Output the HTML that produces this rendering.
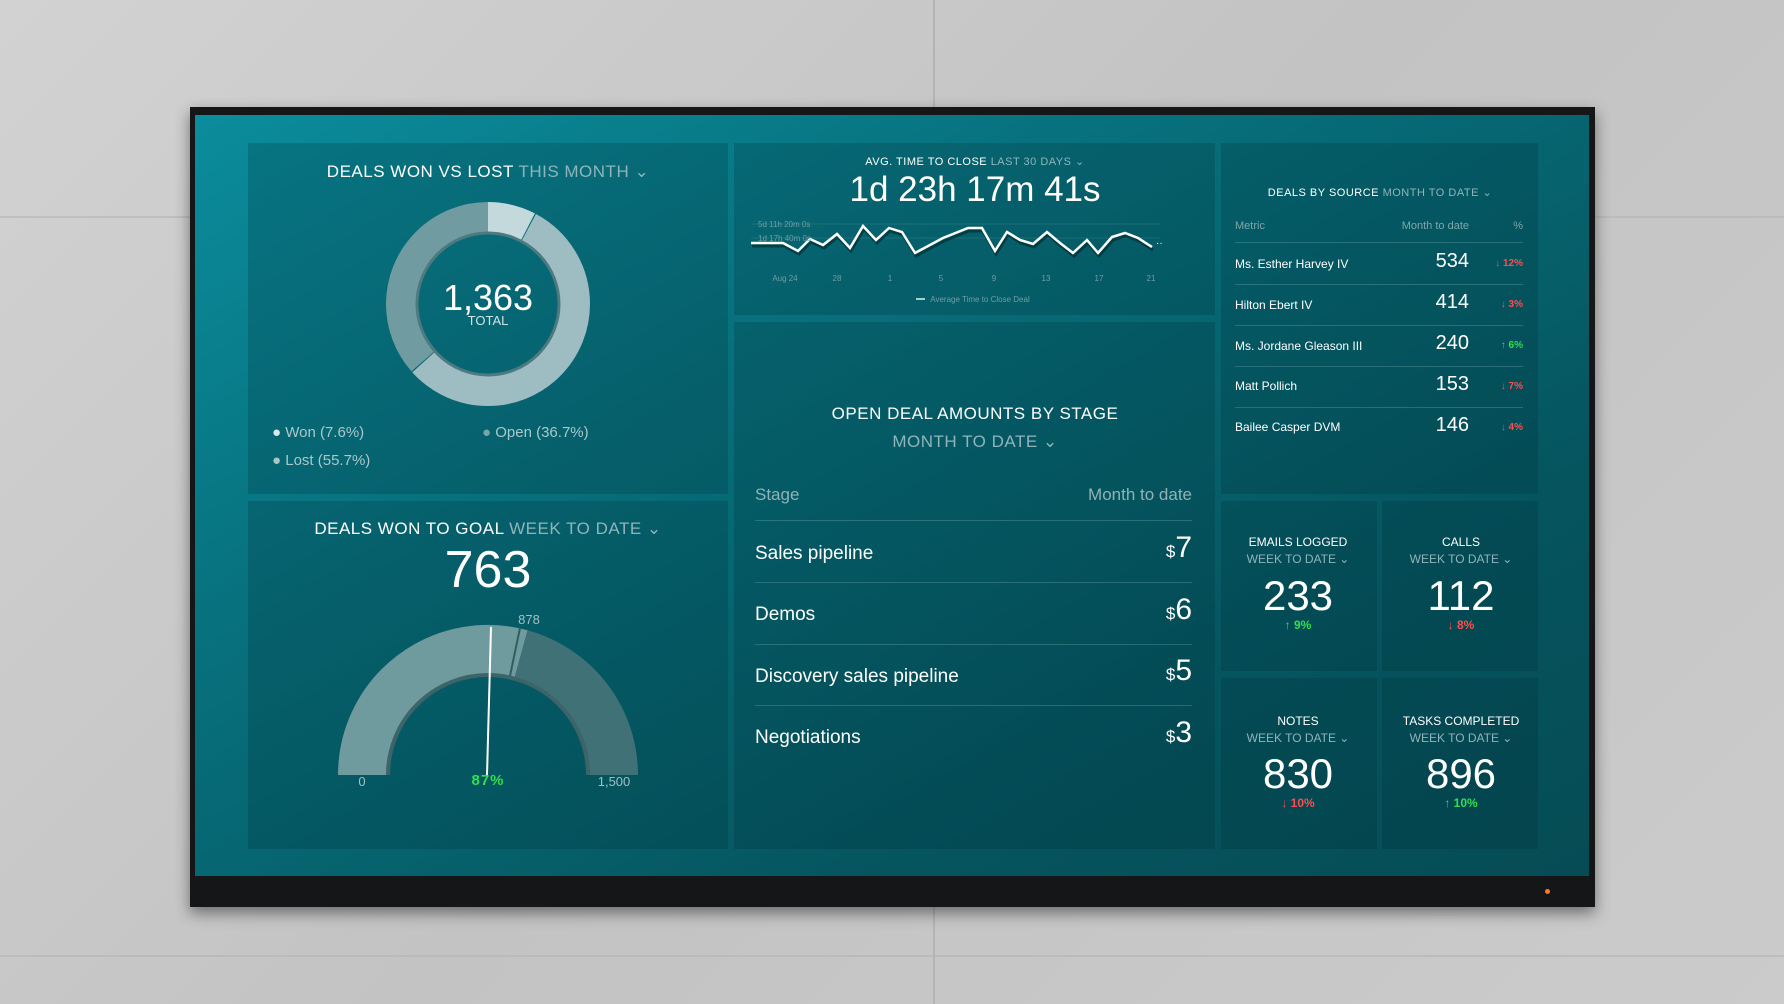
<!DOCTYPE html>
<html><head><meta charset="utf-8"><style>
*{margin:0;padding:0;box-sizing:border-box}
body{width:1784px;height:1004px;overflow:hidden;position:relative;font-family:"Liberation Sans",sans-serif;
background:linear-gradient(135deg,#d2d2d2,#c3c3c3 50%,#cbcbcb);}
.seam{position:absolute;background:#b4b4b4}
.frame{position:absolute;left:190px;top:107px;width:1405px;height:800px;background:#151617;box-shadow:0 6px 14px rgba(0,0,0,.45)}
.screen{position:absolute;left:195px;top:115px;width:1394px;height:761px;
background:linear-gradient(150deg,#0b8c9c 0%,#07707c 35%,#05545e 75%,#064c55 100%)}
.p{position:absolute;background:rgba(0,40,50,.22)}
.t{position:absolute;color:#fff;white-space:nowrap}
.c{text-align:center;transform:translateX(-50%)}
.r{text-align:right;transform:translateX(-100%)}
.dim{color:#8fb5ba}
.sep{position:absolute;height:1px;background:rgba(140,190,195,.28)}
.red{color:#ff4d4d;font-weight:bold}
.grn{color:#2fe04f;font-weight:bold}
</style></head><body>
<div class="seam" style="left:933px;top:0;width:2px;height:1004px"></div>
<div class="seam" style="left:0;top:216px;width:1784px;height:2px;opacity:.6"></div>
<div class="seam" style="left:0;top:955px;width:1784px;height:2px;opacity:.6"></div>
<div class="frame"></div>
<div class="screen"></div>
<div style="position:absolute;left:1545px;top:889px;width:5px;height:5px;border-radius:50%;background:#ff7a20"></div>

<div class="p" style="left:248px;top:143px;width:480px;height:351px"></div>
<div class="p" style="left:248px;top:501px;width:480px;height:348px"></div>
<div class="p" style="left:734px;top:143px;width:481px;height:172px"></div>
<div class="p" style="left:734px;top:322px;width:481px;height:527px"></div>
<div class="p" style="left:1221px;top:143px;width:317px;height:351px"></div>
<div class="p" style="left:1221px;top:501px;width:156px;height:170px"></div>
<div class="p" style="left:1382px;top:501px;width:156px;height:170px"></div>
<div class="p" style="left:1221px;top:678px;width:156px;height:171px"></div>
<div class="p" style="left:1382px;top:678px;width:156px;height:171px"></div>

<!-- Panel 1 -->
<div class="t c" style="left:488px;top:162px;font-size:17px;letter-spacing:.5px">DEALS WON VS LOST <span class="dim">THIS MONTH ⌄</span></div>
<svg style="position:absolute;left:0;top:0" width="1784" height="1004">
<g transform="translate(488,304) rotate(-90)">
<circle r="86.5" fill="none" stroke="#c4d9dc" stroke-width="31" stroke-dasharray="41.3 600"/>
<circle r="86.5" fill="none" stroke="#9ebdc2" stroke-width="31" stroke-dasharray="0 42.3 301.7 600"/>
<circle r="86.5" fill="none" stroke="#6f9ba1" stroke-width="31" stroke-dasharray="0 345 198.5 600"/>
<circle r="71" fill="none" stroke="#4c7a80" stroke-width="3"/>
</g>
<path d="M363 775 A125 125 0 0 1 521 654.4" fill="none" stroke="#6f9a9e" stroke-width="50"/>
<path d="M521 654.4 A125 125 0 0 1 613 775" fill="none" stroke="#3f7177" stroke-width="50"/>
<path d="M388 775 A100 100 0 0 1 588 775" fill="none" stroke="#3c6469" stroke-width="4"/>
<line x1="520" y1="628" x2="510" y2="676" stroke="#2f5f65" stroke-width="2"/>
<line x1="491" y1="627" x2="487" y2="775" stroke="#fff" stroke-width="2"/>
<!-- line chart -->
<line x1="751" y1="238" x2="1160" y2="238" stroke="rgba(150,200,205,.15)"/>
<line x1="751" y1="224" x2="1160" y2="224" stroke="rgba(150,200,205,.15)"/>
<polyline fill="none" stroke="rgba(0,0,0,.35)" stroke-width="3" transform="translate(1,3)" points="751,243 783,243 798,251 810,239 823,245 837,234 850,248 863,226 876,240 889,228 902,232 915,253 943,238 968,228 982,228 995,251 1007,232 1020,240 1033,244 1047,232 1060,243 1073,253 1087,240 1098,253 1112,237 1125,233 1138,238 1152,247"/>
<polyline fill="none" stroke="#fff" stroke-width="2.5" points="751,243 783,243 798,251 810,239 823,245 837,234 850,248 863,226 876,240 889,228 902,232 915,253 943,238 968,228 982,228 995,251 1007,232 1020,240 1033,244 1047,232 1060,243 1073,253 1087,240 1098,253 1112,237 1125,233 1138,238 1152,247"/>
<text x="1156" y="246" fill="#fff" font-size="10" font-family="Liberation Sans">··</text>
<g fill="#6f9ea4" font-size="8" font-family="Liberation Sans" text-anchor="middle">
<text x="758" y="227" text-anchor="start">5d 11h 20m 0s</text>
<text x="758" y="241" text-anchor="start">1d 17h 40m 0s</text>
<text x="785" y="281">Aug 24</text><text x="837" y="281">28</text><text x="890" y="281">1</text><text x="941" y="281">5</text><text x="994" y="281">9</text><text x="1046" y="281">13</text><text x="1099" y="281">17</text><text x="1151" y="281">21</text>
<text x="980" y="302">Average Time to Close Deal</text>
</g>
<line x1="916" y1="299" x2="925" y2="299" stroke="#cfe" stroke-width="1.5"/>
</svg>
<div class="t c" style="left:488px;top:277px;font-size:36px">1,363</div>
<div class="t c" style="left:488px;top:313px;font-size:13px;color:#cfe3e5">TOTAL</div>
<div class="t" style="left:272px;top:424px;font-size:15px;color:#aac8cc"><span style="color:#d9e8ea">●</span> Won (7.6%)</div>
<div class="t" style="left:482px;top:424px;font-size:15px;color:#aac8cc"><span style="color:#7aa3a8">●</span> Open (36.7%)</div>
<div class="t" style="left:272px;top:452px;font-size:15px;color:#aac8cc"><span style="color:#a8c6ca">●</span> Lost (55.7%)</div>

<!-- Panel 2 -->
<div class="t c" style="left:488px;top:519px;font-size:17px;letter-spacing:.5px">DEALS WON TO GOAL <span class="dim">WEEK TO DATE ⌄</span></div>
<div class="t c" style="left:488px;top:540px;font-size:52px">763</div>
<div class="t c" style="left:529px;top:612px;font-size:13px;color:#9fc0c4">878</div>
<div class="t c" style="left:362px;top:774px;font-size:13px;color:#9fc0c4">0</div>
<div class="t c grn" style="left:488px;top:772px;font-size:15px;letter-spacing:1px">87%</div>
<div class="t c" style="left:614px;top:774px;font-size:13px;color:#9fc0c4">1,500</div>

<!-- Panel 3 -->
<div class="t c" style="left:975px;top:155px;font-size:11px;letter-spacing:.5px">AVG. TIME TO CLOSE <span class="dim">LAST 30 DAYS ⌄</span></div>
<div class="t c" style="left:975px;top:170px;font-size:35px">1d 23h 17m 41s</div>

<!-- Panel 4 -->
<div class="t c" style="left:975px;top:404px;font-size:17px;letter-spacing:.5px">OPEN DEAL AMOUNTS BY STAGE</div>
<div class="t c dim" style="left:975px;top:432px;font-size:17px;letter-spacing:.5px">MONTH TO DATE ⌄</div>
<div class="t" style="left:755px;top:485px;font-size:17px;color:#8fb3b7">Stage</div>
<div class="t r" style="left:1192px;top:485px;font-size:17px;color:#8fb3b7">Month to date</div>
<div class="sep" style="left:755px;top:520px;width:437px"></div>
<div class="sep" style="left:755px;top:582px;width:437px"></div>
<div class="sep" style="left:755px;top:644px;width:437px"></div>
<div class="sep" style="left:755px;top:705px;width:437px"></div>
<div class="t" style="left:755px;top:543px;font-size:19px">Sales pipeline</div>
<div class="t" style="left:755px;top:604px;font-size:19px">Demos</div>
<div class="t" style="left:755px;top:666px;font-size:19px">Discovery sales pipeline</div>
<div class="t" style="left:755px;top:727px;font-size:19px">Negotiations</div>
<div class="t r" style="left:1192px;top:531px;font-size:30px"><span style="font-size:17px">$</span>7</div>
<div class="t r" style="left:1192px;top:593px;font-size:30px"><span style="font-size:17px">$</span>6</div>
<div class="t r" style="left:1192px;top:654px;font-size:30px"><span style="font-size:17px">$</span>5</div>
<div class="t r" style="left:1192px;top:716px;font-size:30px"><span style="font-size:17px">$</span>3</div>

<!-- Panel 5 -->
<div class="t c" style="left:1380px;top:186px;font-size:11px;letter-spacing:.5px">DEALS BY SOURCE <span class="dim">MONTH TO DATE ⌄</span></div>
<div class="t" style="left:1235px;top:220px;font-size:11px;color:#7fa6ab">Metric</div>
<div class="t r" style="left:1469px;top:220px;font-size:11px;color:#7fa6ab">Month to date</div>
<div class="t r" style="left:1523px;top:220px;font-size:11px;color:#7fa6ab">%</div>
<div class="sep" style="left:1235px;top:242px;width:288px"></div>
<div class="sep" style="left:1235px;top:284px;width:288px"></div>
<div class="sep" style="left:1235px;top:325px;width:288px"></div>
<div class="sep" style="left:1235px;top:366px;width:288px"></div>
<div class="sep" style="left:1235px;top:407px;width:288px"></div>
<div class="t" style="left:1235px;top:257px;font-size:12px">Ms. Esther Harvey IV</div>
<div class="t" style="left:1235px;top:298px;font-size:12px">Hilton Ebert IV</div>
<div class="t" style="left:1235px;top:339px;font-size:12px">Ms. Jordane Gleason III</div>
<div class="t" style="left:1235px;top:379px;font-size:12px">Matt Pollich</div>
<div class="t" style="left:1235px;top:420px;font-size:12px">Bailee Casper DVM</div>
<div class="t r" style="left:1469px;top:250px;font-size:20px">534</div>
<div class="t r" style="left:1469px;top:291px;font-size:20px">414</div>
<div class="t r" style="left:1469px;top:332px;font-size:20px">240</div>
<div class="t r" style="left:1469px;top:373px;font-size:20px">153</div>
<div class="t r" style="left:1469px;top:414px;font-size:20px">146</div>
<div class="t r red" style="left:1523px;top:258px;font-size:10px">↓ 12%</div>
<div class="t r red" style="left:1523px;top:299px;font-size:10px">↓ 3%</div>
<div class="t r grn" style="left:1523px;top:340px;font-size:10px">↑ 6%</div>
<div class="t r red" style="left:1523px;top:381px;font-size:10px">↓ 7%</div>
<div class="t r red" style="left:1523px;top:422px;font-size:10px">↓ 4%</div>

<!-- small panels -->
<div class="t c" style="left:1298px;top:535px;font-size:12px">EMAILS LOGGED</div>
<div class="t c dim" style="left:1298px;top:552px;font-size:12px">WEEK TO DATE ⌄</div>
<div class="t c" style="left:1298px;top:572px;font-size:42px">233</div>
<div class="t c grn" style="left:1298px;top:618px;font-size:12px">↑ 9%</div>
<div class="t c" style="left:1461px;top:535px;font-size:12px">CALLS</div>
<div class="t c dim" style="left:1461px;top:552px;font-size:12px">WEEK TO DATE ⌄</div>
<div class="t c" style="left:1461px;top:572px;font-size:42px">112</div>
<div class="t c red" style="left:1461px;top:618px;font-size:12px">↓ 8%</div>
<div class="t c" style="left:1298px;top:714px;font-size:12px">NOTES</div>
<div class="t c dim" style="left:1298px;top:731px;font-size:12px">WEEK TO DATE ⌄</div>
<div class="t c" style="left:1298px;top:750px;font-size:42px">830</div>
<div class="t c red" style="left:1298px;top:796px;font-size:12px">↓ 10%</div>
<div class="t c" style="left:1461px;top:714px;font-size:12px">TASKS COMPLETED</div>
<div class="t c dim" style="left:1461px;top:731px;font-size:12px">WEEK TO DATE ⌄</div>
<div class="t c" style="left:1461px;top:750px;font-size:42px">896</div>
<div class="t c grn" style="left:1461px;top:796px;font-size:12px">↑ 10%</div>
</body></html>
